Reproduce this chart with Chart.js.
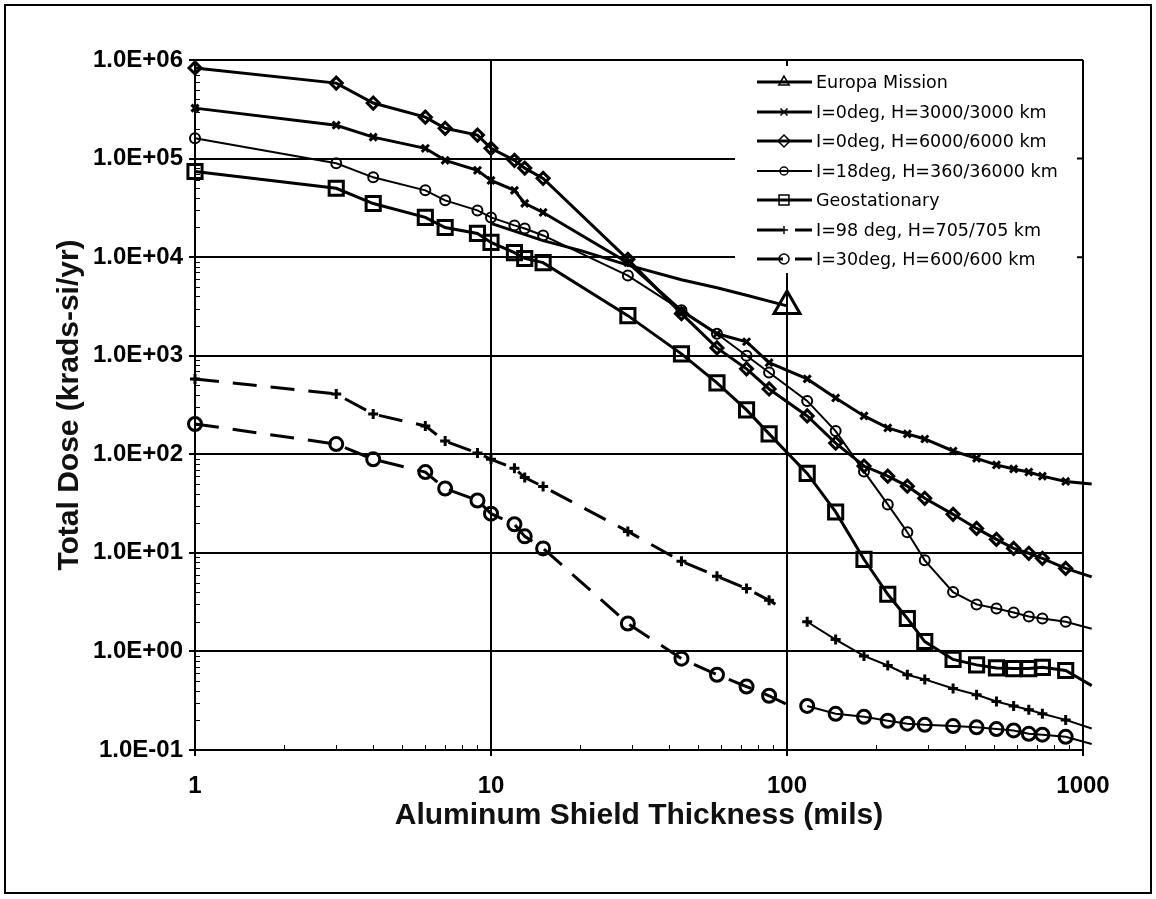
<!DOCTYPE html>
<html>
<head>
<meta charset="utf-8">
<style>
  html, body { margin: 0; padding: 0; background: #fff; }
  #wrap { width: 1156px; height: 899px; }
</style>
</head>
<body>
<div id="wrap"><canvas id="doseChart" width="1156" height="899"></canvas></div>
<script src="https://cdn.jsdelivr.net/npm/chart.js"></script>
<script>
  // shield thickness grid (mils) shared by the orbit curves; the last one runs just past the frame
  const thickness = [1, 3, 4, 6, 7, 9, 10, 12, 13, 15, 29, 44, 58, 73, 87, 100,
    117, 146, 182, 219, 255, 292, 364, 437, 510, 583, 656, 729, 874, 1070];

  // dose values in krads-si/yr, null where a curve has no point
  const doseI0H3000 = [325000, 218000, 165000, 127000, 96000, 76000, 60000, 47600, 35100, 28400,
    8800, 2860, 1670, 1385, 850, null, 582, 373, 245, 185, 161, 143, 108, 91, 78, 71, 66, 60, 53, 50];
  const doseI0H6000 = [830000, 583000, 366000, 263000, 203000, 173000, 127000, 96000, 80000, 63000,
    9500, 2670, 1200, 736, 460, null, 245, 130, 76, 60, 47.5, 35.8, 24.6, 17.7, 13.7, 11.1, 9.9, 8.8, 6.95, 5.7];
  const doseI18 = [161000, 89600, 64500, 47600, 37700, 29800, 25300, 21000, 19500, 16600,
    6500, 2900, 1670, 1000, 676, null, 348, 172, 67, 31, 16.2, 8.4, 4.0, 3.0, 2.72, 2.48, 2.26, 2.16, 2.0, 1.7];
  const doseGeo = [74000, 50000, 35000, 25300, 20000, 17400, 14100, 11100, 9700, 8800,
    2550, 1045, 530, 282, 161, null, 64, 26, 8.6, 3.8, 2.16, 1.26, 0.83, 0.73, 0.68, 0.67, 0.67, 0.69, 0.64, 0.45];
  const doseI98 = [582, 409, 256, 194, 136, 103, 89, 72, 58, 47,
    16.5, 8.2, 5.8, 4.35, 3.3, 2.54, 2.0, 1.32, 0.9, 0.72, 0.58, 0.52, 0.42, 0.363, 0.31, 0.28, 0.256, 0.233, 0.202, 0.165];
  const doseI30 = [203, 127, 89, 66, 45, 34, 25, 19.5, 14.7, 11.1,
    1.92, 0.845, 0.58, 0.44, 0.355, 0.29, 0.28, 0.233, 0.217, 0.198, 0.185, 0.18, 0.175, 0.17, 0.163, 0.158, 0.146, 0.143, 0.136, 0.115];

  const europaThickness = [10, 15, 20, 29, 44, 58, 73, 100];
  const europaDose = [22000, 14700, 11700, 8300, 5900, 4900, 4100, 3200];

  const xTicks = [1, 10, 100, 1000];
  const yTicks = [0.1, 1, 10, 100, 1000, 10000, 100000, 1000000];

  const BREAK = 100; // LEO curves stop at 100 mils and pick up again at 117

  const pts = (xs, ys) => xs.map((x, i) => ({x: x, y: ys[i]}));
  const sciLabel = v => {
    const [m, e] = v.toExponential(1).split('e');
    const n = parseInt(e, 10);
    return m.toUpperCase() + 'E' + (n < 0 ? '-' : '+') + String(Math.abs(n)).padStart(2, '0');
  };

  // LEO curves: dashed up to 100 mils, blank from 100 to 117, solid after
  const leoSegment = {
    borderColor: ctx => ctx.p0.parsed.x === BREAK ? 'rgba(0,0,0,0)' : undefined,
    borderDash: ctx => ctx.p1.parsed.x <= BREAK ? [24, 14] : undefined,
    borderWidth: ctx => ctx.p1.parsed.x <= BREAK ? 3 : 2
  };
  // no marker at the break nor at the run-out point past the frame
  const markers = r => ctx => {
    if (!ctx.raw) return r;
    return (ctx.raw.x === BREAK || ctx.dataIndex === thickness.length - 1) ? 0 : r;
  };

  const boxLegend = {
    id: 'boxLegend',
    afterDatasetsDraw(chart) {
      const {ctx, chartArea: a} = chart;
      const left = a.left + 540;
      ctx.save();
      ctx.fillStyle = '#fff';
      ctx.fillRect(left, a.top + 1, a.right - 1 - left, 212);
      // the frame keeps its inward ticks over the legend
      ctx.strokeStyle = '#000';
      ctx.lineWidth = 2;
      const px = chart.scales.x.getPixelForValue(100);
      ctx.beginPath();
      ctx.moveTo(px, a.top); ctx.lineTo(px, a.top + 6);
      [100000, 10000].forEach(v => {
        const py = chart.scales.y.getPixelForValue(v);
        ctx.moveTo(a.right, py); ctx.lineTo(a.right - 6, py);
      });
      ctx.stroke();

      ctx.font = '17.5px "DejaVu Sans"';
      ctx.textBaseline = 'middle';
      chart.data.datasets.forEach((ds, i) => {
        const y = Math.round(a.top + 22 + i * 29.5);
        ctx.strokeStyle = '#000';
        ctx.lineWidth = ds.legendWidth;
        ctx.setLineDash(ds.legendDash || []);
        ctx.beginPath();
        ctx.moveTo(left + 22, y); ctx.lineTo(left + 77, y);
        ctx.stroke();
        ctx.setLineDash([]);
        ctx.fillStyle = 'rgba(0,0,0,0)';
        ctx.lineWidth = 1.5;
        Chart.helpers.drawPoint(ctx, {pointStyle: ds.pointStyle, radius: ds.legendRadius, rotation: 0, borderWidth: 1.5}, left + 49, y);
        ctx.fillStyle = '#000';
        ctx.fillText(ds.label, left + 81, y + 1);
      });
      ctx.restore();
    }
  };

  const frame = {
    id: 'frame',
    beforeDraw(chart) {
      const {ctx, width, height} = chart;
      ctx.save();
      ctx.fillStyle = '#fff';
      ctx.fillRect(0, 0, width, height);
      ctx.restore();
    },
    afterDraw(chart) {
      const {ctx, chartArea: a, scales: {x, y}} = chart;
      ctx.save();
      ctx.strokeStyle = '#000';
      ctx.lineWidth = 1;
      ctx.beginPath();
      for (let e = -1; e < 6; e++) {
        for (let k = 2; k <= 9; k++) {
          const py = Math.round(y.getPixelForValue(k * Math.pow(10, e))) + 0.5;
          ctx.moveTo(a.left, py); ctx.lineTo(a.left + 5, py);
        }
      }
      for (let e = 0; e < 3; e++) {
        for (let k = 2; k <= 9; k++) {
          const px = Math.round(x.getPixelForValue(k * Math.pow(10, e))) + 0.5;
          ctx.moveTo(px, a.bottom); ctx.lineTo(px, a.bottom - 5);
        }
      }
      ctx.stroke();
      ctx.lineWidth = 2;
      ctx.strokeRect(5, 5, 1146, 888);
      ctx.restore();
    }
  };

  new Chart(document.getElementById('doseChart'), {
    type: 'line',
    data: {
      datasets: [
        {
          label: 'Europa Mission',
          data: pts(europaThickness, europaDose),
          borderWidth: 3,
          pointStyle: 'triangle',
          pointRadius: ctx => (ctx.dataIndex === europaDose.length - 1 ? 15 : 0),
          legendRadius: 6, legendWidth: 3
        },
        {
          label: 'I=0deg, H=3000/3000 km',
          data: pts(thickness, doseI0H3000),
          borderWidth: 3,
          pointStyle: 'crossRot',
          pointRadius: markers(5),
          legendRadius: 5, legendWidth: 3
        },
        {
          label: 'I=0deg, H=6000/6000 km',
          data: pts(thickness, doseI0H6000),
          borderWidth: 3,
          pointStyle: 'rectRot',
          pointRadius: markers(6),
          legendRadius: 6, legendWidth: 3
        },
        {
          label: 'I=18deg, H=360/36000 km',
          data: pts(thickness, doseI18),
          borderWidth: 2,
          pointStyle: 'circle',
          pointRadius: markers(5),
          legendRadius: 4, legendWidth: 2
        },
        {
          label: 'Geostationary',
          data: pts(thickness, doseGeo),
          borderWidth: 3,
          pointStyle: 'rect',
          pointRadius: markers(10),
          legendRadius: 7, legendWidth: 3
        },
        {
          label: 'I=98 deg, H=705/705 km',
          data: pts(thickness, doseI98),
          borderWidth: 3,
          pointStyle: 'cross',
          pointRadius: markers(5),
          segment: leoSegment,
          legendRadius: 4, legendWidth: 3, legendDash: [26, 12]
        },
        {
          label: 'I=30deg, H=600/600 km',
          data: pts(thickness, doseI30),
          borderWidth: 3,
          pointStyle: 'circle',
          pointRadius: markers(6.5),
          segment: leoSegment,
          legendRadius: 5, legendWidth: 3, legendDash: [26, 12]
        }
      ]
    },
    options: {
      responsive: false,
      animation: false,
      events: [],
      spanGaps: true,
      clip: false,
      layout: { padding: { left: 0, top: 60, right: 73, bottom: 0 } },
      elements: {
        line: { borderColor: '#000', tension: 0, fill: false },
        point: { borderColor: '#000', backgroundColor: 'rgba(0,0,0,0)', borderWidth: 1.5, hoverRadius: 0 }
      },
      plugins: {
        legend: { display: false },
        tooltip: { enabled: false }
      },
      scales: {
        x: {
          type: 'logarithmic',
          min: 1,
          max: 1000,
          afterFit: s => { s.height = 149; },
          afterBuildTicks: s => { s.ticks = xTicks.map(v => ({value: v})); },
          grid: { color: '#000', lineWidth: 2, tickLength: 6, drawTicks: true },
          border: { color: '#000', width: 2 },
          ticks: {
            autoSkip: false, maxRotation: 0, padding: 16, color: '#000',
            font: { family: 'Liberation Sans', size: 24, weight: 'bold' },
            callback: v => String(v)
          },
          title: {
            display: true,
            text: 'Aluminum Shield Thickness (mils)',
            color: '#111',
            font: { family: 'Liberation Sans', size: 30, weight: 'bold' },
            padding: { top: 0, bottom: 65 }
          }
        },
        y: {
          type: 'logarithmic',
          min: 0.1,
          max: 1000000,
          afterFit: s => { s.width = 195; },
          afterBuildTicks: s => { s.ticks = yTicks.map(v => ({value: v})); },
          grid: { color: '#000', lineWidth: 2, tickLength: 6, drawTicks: true },
          border: { color: '#000', width: 2 },
          ticks: {
            autoSkip: false, padding: 6, color: '#000',
            font: { family: 'Liberation Sans', size: 24, weight: 'bold' },
            callback: v => sciLabel(v)
          },
          title: {
            display: true,
            text: 'Total Dose (krads-si/yr)',
            color: '#111',
            font: { family: 'Liberation Sans', size: 30, weight: 'bold' },
            padding: { top: 52, bottom: 0 }
          }
        }
      }
    },
    plugins: [frame, boxLegend]
  });
</script>
</body>
</html>
